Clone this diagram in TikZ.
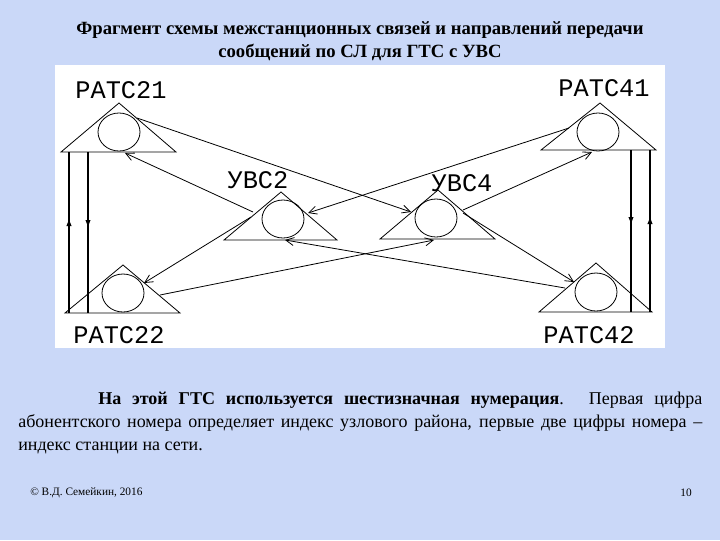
\documentclass[tikz,border=0pt]{standalone}
\usepackage{fontspec}
\setmainfont{Liberation Serif}
\newfontfamily\labfont{Liberation Mono}
\usetikzlibrary{arrows.meta,shapes.geometric}
\definecolor{bgc}{RGB}{202,216,248}
\begin{document}
\begin{tikzpicture}[x=0.75pt,y=-0.75pt,
  tri/.style={draw,line width=0.6pt},
  ell/.style={draw,line width=0.6pt,ellipse,minimum width=31.5pt,minimum height=28.5pt,inner sep=0pt},
  lnk/.style={line width=0.6pt,-{Straight Barb[length=6pt,width=6pt]}},
  vl/.style={line width=0.9pt},
  vtip/.style={vl,-{Latex[length=6pt,width=4pt]}},
  lab/.style={font=\labfont\fontsize{19}{19}\selectfont},
  every node/.style={inner sep=0pt}]
\fill[bgc] (0,0) rectangle (720,540);
\fill[white] (55,65) rectangle (665,348);
\node[font=\bfseries\fontsize{14}{17}\selectfont,align=center] (title) at (360,41) {Фрагмент схемы межстанционных связей и направлений передачи\\сообщений по СЛ для ГТС с УВС};
% triangles
\draw[tri] (119,103) -- (176,152) -- (61,152) -- cycle;
\draw[tri] (600,103) -- (656,150) -- (541,150) -- cycle;
\draw[tri] (281,192) -- (337,240) -- (224,240) -- cycle;
\draw[tri] (438,190) -- (495,239) -- (380,239) -- cycle;
\draw[tri] (123,265) -- (180,313) -- (65,313) -- cycle;
\draw[tri] (596,263) -- (652,312) -- (539,312) -- cycle;
\node[ell] (p21) at (119,132) {};
\node[ell] (p41) at (598,132) {};
\node[ell] (u2) at (283,219) {};
\node[ell] (u4) at (436,218) {};
\node[ell] (p22) at (123,293) {};
\node[ell] (p42) at (596,292) {};
\node[lab] (l21) at (121,90) {PATC21};
\node[lab] (l41) at (604,88) {PATC41};
\node[lab] (lu2) at (258,180) {УВС2};
\node[lab] (lu4) at (462,183) {УВС4};
\node[lab] (l22) at (119,335) {PATC22};
\node[lab] (l42) at (589,335) {PATC42};
% coordinates
\coordinate (a1) at (137,118); \coordinate (b1) at (411,212);
\coordinate (a2) at (253,212); \coordinate (b2) at (125,153);
\coordinate (a3) at (569,128); \coordinate (b3) at (308,213);
\coordinate (a4) at (463,210); \coordinate (b4) at (592,152);
\coordinate (a5) at (251,217); \coordinate (b5) at (144,283);
\coordinate (a6) at (160,295); \coordinate (b6) at (434,240);
\coordinate (a7) at (463,213); \coordinate (b7) at (574,282);
\coordinate (a8) at (565,288); \coordinate (b8) at (285,240);
\foreach \i in {1,...,8}{\draw[lnk] (a\i) -- (b\i);}
% vertical links
\coordinate (v1t) at (69,152); \coordinate (v1b) at (69,313);
\coordinate (v2t) at (88,152); \coordinate (v2b) at (88,313);
\coordinate (v3t) at (631,150); \coordinate (v3b) at (631,312);
\coordinate (v4t) at (650,150); \coordinate (v4b) at (650,312);
\draw[vl] (v1t) -- (v1b); \draw[vtip] (v1b) -- (69,218);
\draw[vl] (v2t) -- (v2b); \draw[vtip] (v2t) -- (88,228);
\draw[vl] (v3t) -- (v3b); \draw[vtip] (v3t) -- (631,225);
\draw[vl] (v4t) -- (v4b); \draw[vtip] (v4b) -- (650,216);
% body text
\node[anchor=north west,text width=684*0.75pt,align=justify,font=\fontsize{13.5}{17.3}\selectfont] (body) at (18,392)
{\hspace*{60pt}\textbf{На этой ГТС используется шестизначная нумерация}. Первая цифра абонентского номера определяет индекс узлового района, первые две цифры номера – индекс станции на сети.};
\node[anchor=west,font=\fontsize{8.5}{10}\selectfont] (copy) at (30,493) {© В.Д. Семейкин, 2016};
\node[anchor=east,font=\fontsize{8.5}{10}\selectfont] (num) at (692,493) {10};
\end{tikzpicture}
\end{document}
